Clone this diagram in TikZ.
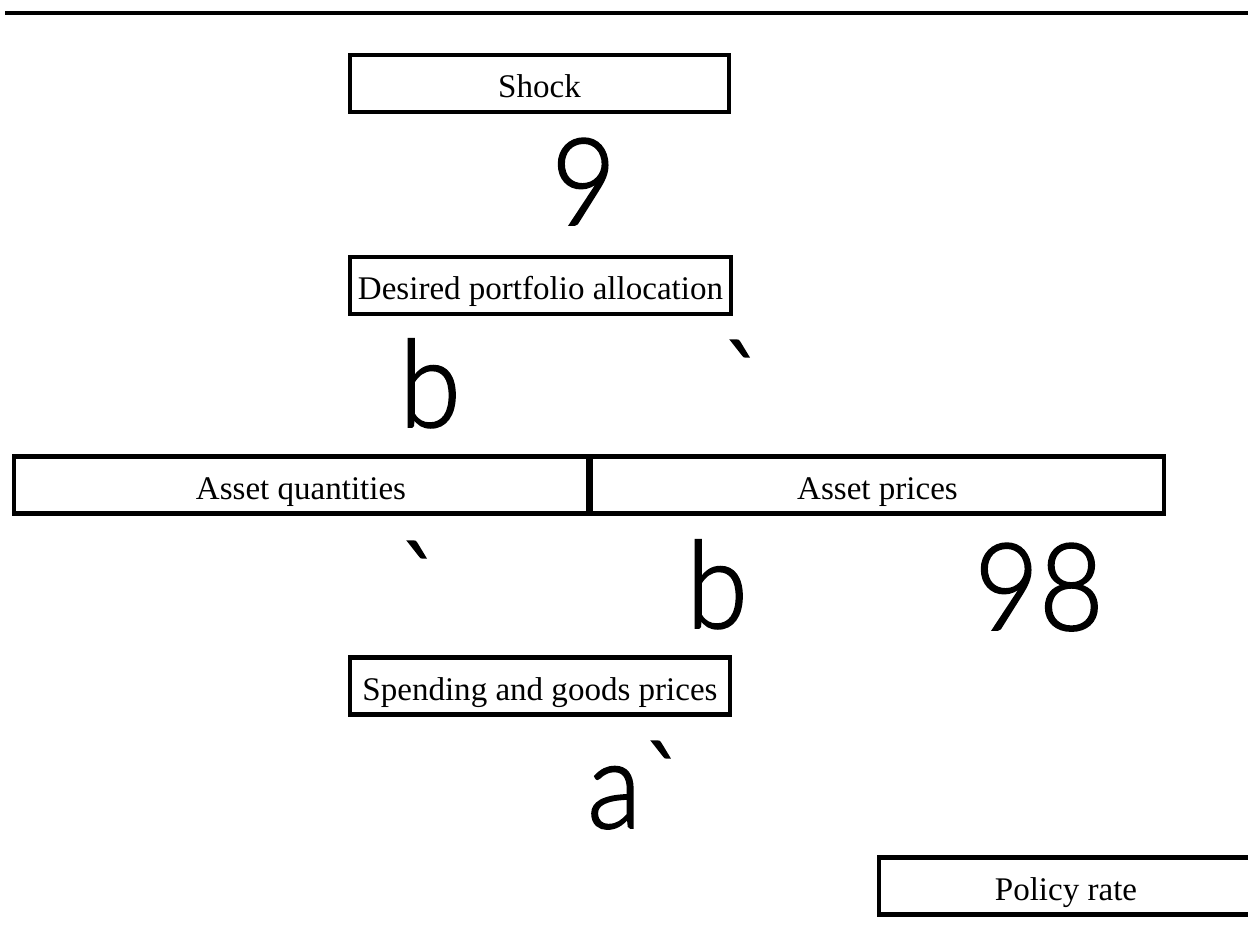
\documentclass[tikz,border=0pt]{standalone}
\usepackage{fontspec}
\setmainfont{Liberation Serif}
\newfontfamily\glyphfont[FakeBold=1.6]{Lato Light}
\begin{document}
\begin{tikzpicture}
[
    x=0.02cm, y=-0.02cm,
    box/.style={draw, line width=2.3pt, inner sep=0pt, minimum height=1.14cm,
        text height=16pt, text depth=0pt,
        font=\fontsize{18.8}{20}\selectfont},
    glyph/.style={inner sep=0pt, anchor=base west,
        font=\glyphfont\fontsize{69}{70}\selectfont},
]
\useasboundingbox (0,0) rectangle (1248,949);
\draw[line width=2.3pt] (5,13) -- (1248,13);

\node[box, minimum width=7.58cm] (shock) at (539.5,83.5) {Shock};
\node[box, minimum width=7.62cm] (desired) at (540.5,285.5) {Desired portfolio allocation};
\node[box, minimum width=11.5cm] (quantities) at (301,485) {Asset quantities};
\node[box, minimum width=11.46cm] (prices) at (877.5,485) {Asset prices};
\node[box, minimum width=7.6cm] (spending) at (540,686) {Spending and goods prices};
\node[box, minimum width=7.5cm] (policy) at (1066,886) {Policy rate};

% the marks left where the arrows were
\node[glyph] (g1) at (551,225) {\scalebox{0.92}[1]{9}};
\node[glyph] (g2) at (399,427) {\scalebox{0.92}[1]{b}};
\node[glyph] (g3) at (720,427) {\scalebox{0.92}[1]{`}};
\node[glyph] (g4) at (397,628) {\scalebox{0.92}[1]{`}};
\node[glyph] (g5) at (686,628) {\scalebox{0.92}[1]{b}};
\node[glyph] (g6) at (974,630) {\scalebox{0.92}[1]{98}};
\node[glyph] (g7) at (587,828) {\scalebox{0.92}[1]{a`}};
\end{tikzpicture}
\end{document}
